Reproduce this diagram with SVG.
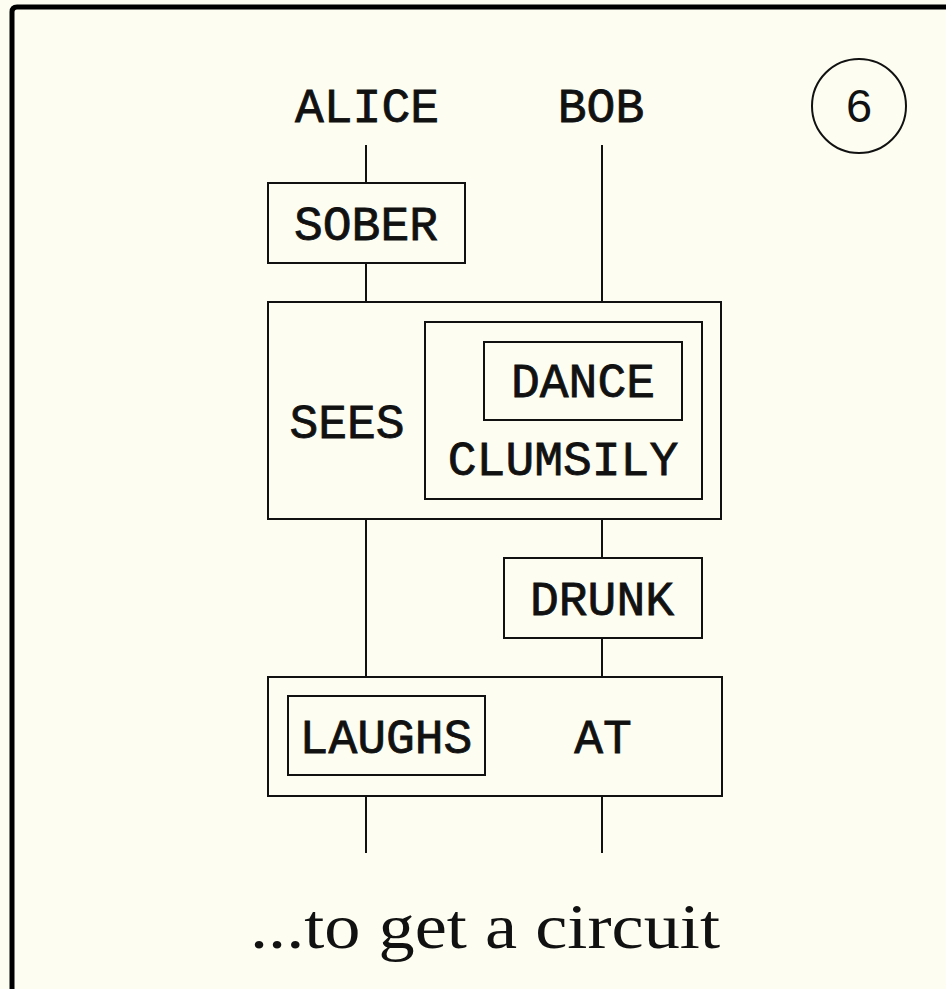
<svg xmlns="http://www.w3.org/2000/svg" width="946" height="989" viewBox="0 0 946 989">
<style>
.box{fill:none;stroke:#111;stroke-width:2}
.w{stroke:#111;stroke-width:2;fill:none}
.t{font-family:"Liberation Mono","DejaVu Sans Mono",monospace;font-size:48px;fill:#111;stroke:#111;stroke-width:0.8;text-anchor:middle}
</style>
<rect width="946" height="989" fill="#fdfdf2"/>
<path d="M12,989 V12 Q12,7 17,7 H946" fill="none" stroke="#000" stroke-width="5"/>
<g id="badge">
<circle cx="859" cy="106" r="47" fill="none" stroke="#111" stroke-width="2"/>
<text x="859" y="122" font-family="Liberation Sans,Arial,sans-serif" font-size="47" text-anchor="middle" fill="#111">6</text>
</g>
<g id="connectors">
<line class="w" x1="366" y1="145" x2="366" y2="183"/>
<line class="w" x1="366" y1="263" x2="366" y2="302"/>
<line class="w" x1="602" y1="145" x2="602" y2="302"/>
<line class="w" x1="366" y1="519" x2="366" y2="677"/>
<line class="w" x1="602" y1="519" x2="602" y2="558"/>
<line class="w" x1="602" y1="638" x2="602" y2="677"/>
<line class="w" x1="366" y1="796" x2="366" y2="853"/>
<line class="w" x1="602" y1="796" x2="602" y2="853"/>
</g>
<g id="alice"><text class="t" x="367" y="122">ALICE</text></g>
<g id="bob"><text class="t" x="601" y="122">BOB</text></g>
<g id="sober">
<rect class="box" x="268" y="183" width="197" height="80"/>
<text class="t" x="366" y="240">SOBER</text>
</g>
<g id="sees">
<rect class="box" x="268" y="302" width="453" height="217"/>
<text class="t" x="347" y="438">SEES</text>
</g>
<g id="clumsily">
<rect class="box" x="425" y="322" width="277" height="177"/>
<text class="t" x="563" y="475">CLUMSILY</text>
</g>
<g id="dance">
<rect class="box" x="484" y="342" width="198" height="78"/>
<text class="t" x="583" y="397">DANCE</text>
</g>
<g id="drunk">
<rect class="box" x="504" y="558" width="198" height="80"/>
<text class="t" x="602" y="615">DRUNK</text>
</g>
<g id="laughs-at">
<rect class="box" x="268" y="677" width="454" height="119"/>
<text class="t" x="603" y="753">AT</text>
</g>
<g id="laughs">
<rect class="box" x="288" y="696" width="197" height="79"/>
<text class="t" x="386" y="753">LAUGHS</text>
</g>
<g id="caption">
<text x="485" y="948" font-family="Liberation Serif,Times New Roman,serif" font-size="64" text-anchor="middle" fill="#111" textLength="470" lengthAdjust="spacingAndGlyphs">...to get a circuit</text>
</g>
</svg>
